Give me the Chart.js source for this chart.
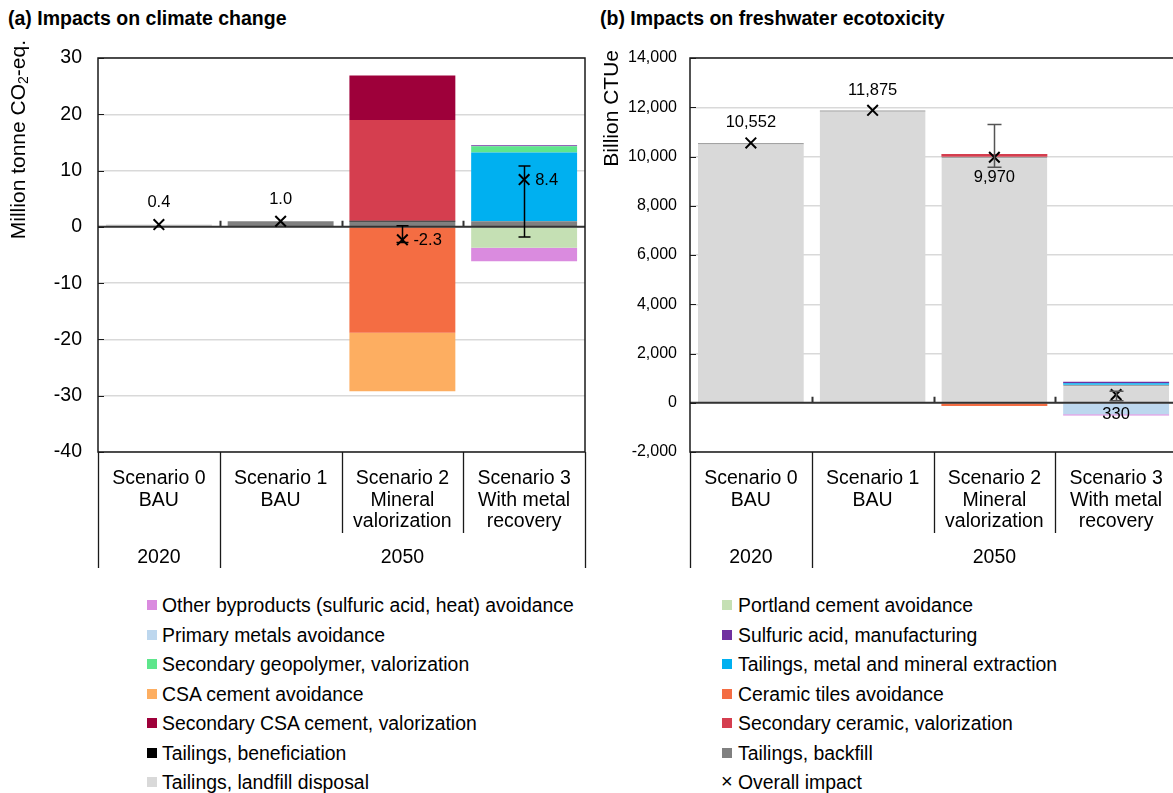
<!DOCTYPE html>
<html>
<head>
<meta charset="utf-8">
<script src="https://cdn.jsdelivr.net/npm/chart.js@4.4.1/dist/chart.umd.min.js"></script>
<style>
  html, body { margin: 0; padding: 0; background: #fff; overflow: hidden; width: 1173px; height: 793px; }
  body { position: relative; font-family: 'Liberation Sans', Arial, Helvetica, sans-serif; color: #000; }
  .panel-title { position: absolute; top: 7px; font-weight: bold; font-size: 19.5px; line-height: 22px; white-space: nowrap; }
  canvas { position: absolute; top: 0; }
  .lg-item { position: absolute; height: 24px; line-height: 24px; font-size: 19.4px; white-space: nowrap; }
  .lg-box { position: absolute; top: 7px; width: 10px; height: 10px; }
  .lg-x { position: absolute; top: -1px; font-size: 20px; }
  .lg-text { position: absolute; top: 0; }
</style>
</head>
<body>
<div class="panel-title" style="left:8px">(a) Impacts on climate change</div>
<div class="panel-title" style="left:600px">(b) Impacts on freshwater ecotoxicity</div>
<canvas id="chartA" width="600" height="580" style="left:0"></canvas>
<canvas id="chartB" width="600" height="580" style="left:590px"></canvas>
<div id="legend"></div>

<script>
// ---- Categories ----
const categories = [
  ['Scenario 0', 'BAU'],
  ['Scenario 1', 'BAU'],
  ['Scenario 2', 'Mineral', 'valorization'],
  ['Scenario 3', 'With metal', 'recovery']
];
const yearLabels = ['2020', '2050'];
const yearGroups = [[0, 0], [1, 3]];

// ---- (a) Climate change, million tonne CO2-eq. ----
const climLandfill        = [0.4, 0, 0, 0];
const climBackfill        = [0, 1.0, 0.9, 1.0];
const climBeneficiation   = [0, 0, 0.2, 0];
const climSecCeramic      = [0, 0, 17.9, 0];
const climSecCSA          = [0, 0, 7.9, 0];
const climExtraction      = [0, 0, 0, 12.2];
const climGeopolymer      = [0, 0, 0, 1.1];
const climSulfuric        = [0, 0, 0, 0.2];
const climCeramicAvoid    = [0, 0, -18.8, 0];
const climCSAAvoid        = [0, 0, -10.4, 0];
const climPortlandAvoid   = [0, 0, 0, -3.7];
const climPrimaryMetals   = [0, 0, 0, 0];
const climOtherByproducts = [0, 0, 0, -2.4];
const climOverall         = [0.4, 1.0, -2.3, 8.4];
const climErrLow          = [null, null, -2.8, -1.8];
const climErrHigh         = [null, null, 0.2, 10.8];
const climTicks           = [-40, 30, 10];

// ---- (b) Freshwater ecotoxicity, billion CTUe ----
const ecoLandfill         = [10552, 11875, 9990, 730];
const ecoBackfill         = [0, 0, 0, 0];
const ecoBeneficiation    = [0, 0, 0, 0];
const ecoSecCeramic       = [0, 0, 110, 0];
const ecoSecCSA           = [0, 0, 0, 0];
const ecoExtraction       = [0, 0, 0, 60];
const ecoGeopolymer       = [0, 0, 0, 0];
const ecoSulfuric         = [0, 0, 0, 60];
const ecoCeramicAvoid     = [0, 0, -130, 0];
const ecoCSAAvoid         = [0, 0, 0, 0];
const ecoPortlandAvoid    = [0, 0, 0, 0];
const ecoPrimaryMetals    = [0, 0, 0, -470];
const ecoOtherByproducts  = [0, 0, 0, -50];
const ecoOverall          = [10552, 11875, 9970, 330];
const ecoErrLow           = [null, null, 9560, 80];
const ecoErrHigh          = [null, null, 11300, 470];
const ecoTicks            = [-2000, 14000, 2000];

// Contributors in stacking order (outward from zero)
const components = [
  { name: 'Tailings, landfill disposal', color: '#D9D9D9', a: climLandfill, b: ecoLandfill },
  { name: 'Tailings, backfill', color: '#808080', a: climBackfill, b: ecoBackfill },
  { name: 'Tailings, beneficiation', color: '#000000', a: climBeneficiation, b: ecoBeneficiation },
  { name: 'Secondary ceramic, valorization', color: '#D53E4F', a: climSecCeramic, b: ecoSecCeramic },
  { name: 'Secondary CSA cement, valorization', color: '#9E003A', a: climSecCSA, b: ecoSecCSA },
  { name: 'Tailings, metal and mineral extraction', color: '#00B0F0', a: climExtraction, b: ecoExtraction },
  { name: 'Secondary geopolymer, valorization', color: '#5EE68C', a: climGeopolymer, b: ecoGeopolymer },
  { name: 'Sulfuric acid, manufacturing', color: '#7030A0', a: climSulfuric, b: ecoSulfuric },
  { name: 'Ceramic tiles avoidance', color: '#F46D43', a: climCeramicAvoid, b: ecoCeramicAvoid },
  { name: 'CSA cement avoidance', color: '#FDAE61', a: climCSAAvoid, b: ecoCSAAvoid },
  { name: 'Portland cement avoidance', color: '#C5E0B4', a: climPortlandAvoid, b: ecoPortlandAvoid },
  { name: 'Primary metals avoidance', color: '#BDD7EE', a: climPrimaryMetals, b: ecoPrimaryMetals },
  { name: 'Other byproducts (sulfuric acid, heat) avoidance', color: '#DA8BDF', a: climOtherByproducts, b: ecoOtherByproducts }
];

const legendLeft = [
  'Other byproducts (sulfuric acid, heat) avoidance',
  'Primary metals avoidance',
  'Secondary geopolymer, valorization',
  'CSA cement avoidance',
  'Secondary CSA cement, valorization',
  'Tailings, beneficiation',
  'Tailings, landfill disposal'
];
const legendRight = [
  'Portland cement avoidance',
  'Sulfuric acid, manufacturing',
  'Tailings, metal and mineral extraction',
  'Ceramic tiles avoidance',
  'Secondary ceramic, valorization',
  'Tailings, backfill',
  'Overall impact'
];

Chart.defaults.font.family = "'Liberation Sans', Arial, Helvetica, sans-serif";
Chart.defaults.color = '#000';

const FONT = "'Liberation Sans', Arial, sans-serif";

// Frame, category box, zero line, axis title, error bars and value labels
const panelDecor = {
  id: 'panelDecor',
  beforeDatasetDraw(chart, args, opts) {
    if (args.meta.type !== 'line') return;
    const { ctx, chartArea: ca } = chart;
    const y0 = chart.scales.y.getPixelForValue(0);
    ctx.save();
    ctx.strokeStyle = '#333';
    ctx.lineWidth = 2;
    ctx.beginPath();
    ctx.moveTo(ca.left, y0); ctx.lineTo(ca.right, y0);
    // small ticks on the zero line at category boundaries
    const xs = chart.scales.x;
    for (let i = 0; i < categories.length - 1; i++) {
      const bx = Math.round((xs.getPixelForTick(i) + xs.getPixelForTick(i + 1)) / 2) + 0.5;
      ctx.moveTo(bx, y0); ctx.lineTo(bx, y0 - 6);
    }
    ctx.stroke();
    ctx.restore();
  },
  afterDatasetsDraw(chart, args, opts) {
    const { ctx, chartArea: ca } = chart;
    const xs = chart.scales.x, ys = chart.scales.y;
    ctx.save();

    // plot frame
    ctx.strokeStyle = '#1a1a1a';
    ctx.lineWidth = 1.5;
    ctx.strokeRect(ca.left, ca.top, ca.right - ca.left, ca.bottom - ca.top);

    // inner tick marks on the value axis
    ctx.lineWidth = 1;
    ctx.beginPath();
    ys.ticks.forEach(t => {
      const y = Math.round(ys.getPixelForValue(t.value)) + 0.5;
      ctx.moveTo(ca.left, y); ctx.lineTo(ca.left + 6, y);
    });
    ctx.stroke();

    // category box below the plot
    const boxTop = ca.bottom;
    const boxMid = ca.bottom + 81;
    const boxBottom = ca.bottom + 116;
    ctx.lineWidth = 1.3;
    ctx.strokeStyle = '#1a1a1a';
    ctx.beginPath();
    const groupStarts = yearGroups.map(g => g[0]);
    const edges = [ca.left];
    for (let i = 0; i < categories.length - 1; i++) {
      edges.push((xs.getPixelForTick(i) + xs.getPixelForTick(i + 1)) / 2);
    }
    edges.push(ca.right);
    edges.forEach((ex, i) => {
      const full = i === 0 || i === edges.length - 1 || groupStarts.includes(i);
      const x = Math.round(ex) + 0.5;
      ctx.moveTo(x, boxTop); ctx.lineTo(x, full ? boxBottom : boxMid);
    });
    ctx.stroke();

    // year row
    ctx.fillStyle = '#000';
    ctx.font = '19.5px ' + FONT;
    ctx.textAlign = 'center';
    ctx.textBaseline = 'middle';
    yearGroups.forEach((g, i) => {
      const x = (edges[g[0]] + edges[g[1] + 1]) / 2;
      ctx.fillText(yearLabels[i], x, ca.bottom + 106);
    });

    // rotated value-axis title, read bottom to top, with an optional subscript part
    const main = '21px ' + FONT, sub = '14px ' + FONT;
    let total = 0;
    opts.axisTitle.forEach(p => { ctx.font = p.sub ? sub : main; total += ctx.measureText(p.t).width; });
    ctx.save();
    ctx.translate(opts.titleX, opts.titleTop + total);
    ctx.rotate(-Math.PI / 2);
    ctx.textAlign = 'left';
    ctx.textBaseline = 'middle';
    let cx = 0;
    opts.axisTitle.forEach(p => {
      ctx.font = p.sub ? sub : main;
      ctx.fillText(p.t, cx, p.sub ? 5 : 0);
      cx += ctx.measureText(p.t).width;
    });
    ctx.restore();

    // error bars
    ctx.strokeStyle = opts.errColor;
    ctx.lineWidth = 1.5;
    ctx.beginPath();
    opts.errLow.forEach((lo, i) => {
      const hi = opts.errHigh[i];
      if (lo === null || hi === null) return;
      const x = Math.round(xs.getPixelForTick(i)) + 0.5;
      const yl = ys.getPixelForValue(lo), yh = ys.getPixelForValue(hi);
      const c = opts.cap;
      ctx.moveTo(x, yl); ctx.lineTo(x, yh);
      ctx.moveTo(x - c, yl); ctx.lineTo(x + c, yl);
      ctx.moveTo(x - c, yh); ctx.lineTo(x + c, yh);
    });
    ctx.stroke();

    // value labels of the overall impact
    ctx.fillStyle = '#000';
    ctx.font = '16.5px ' + FONT;
    ctx.textBaseline = 'middle';
    opts.values.forEach((v, i) => {
      const x = xs.getPixelForTick(i);
      const y = ys.getPixelForValue(v);
      const place = opts.placement[i];
      const txt = opts.format(v);
      if (place === 'above') { ctx.textAlign = 'center'; ctx.fillText(txt, x, y - opts.gap); }
      else if (place === 'below') { ctx.textAlign = 'center'; ctx.fillText(txt, x, y + opts.gap); }
      else { ctx.textAlign = 'left'; ctx.fillText(txt, x + 11, y + 1); }
    });
    ctx.restore();
  }
};

function makeChart(canvasId, key, overall, errLow, errHigh, ticks, cfg) {
  const datasets = components.map(c => ({
    type: 'bar',
    label: c.name,
    data: c[key],
    backgroundColor: c.color,
    borderWidth: (key === 'b' && c.name === 'Tailings, landfill disposal') ? { top: 1.5, left: 0, right: 0, bottom: 0 } : 0,
    borderColor: '#A3A3A3',
    borderSkipped: 'start',
    stack: 'impact',
    order: 1
  }));
  datasets.push({
    type: 'line',
    label: 'Overall impact',
    data: overall,
    showLine: false,
    pointStyle: 'crossRot',
    pointRadius: 7.5,
    pointBorderWidth: 2,
    borderColor: '#000',
    backgroundColor: '#000',
    stack: 'overall',
    order: 0
  });

  return new Chart(document.getElementById(canvasId), {
    data: { labels: categories, datasets },
    options: {
      responsive: false,
      devicePixelRatio: 1,
      animation: false,
      events: [],
      layout: { padding: { top: 58, right: cfg.padRight, bottom: 0, left: 0 } },
      datasets: { bar: { categoryPercentage: 0.87, barPercentage: 1 } },
      plugins: {
        legend: { display: false },
        tooltip: { enabled: false },
        panelDecor: {
          values: overall, errLow, errHigh,
          placement: cfg.placement, format: cfg.format,
          gap: cfg.gap, errColor: cfg.errColor, cap: cfg.cap,
          axisTitle: cfg.axisTitle, titleX: cfg.titleX, titleTop: cfg.titleTop
        }
      },
      scales: {
        x: {
          stacked: true,
          grid: { display: false, drawTicks: false },
          border: { display: false },
          ticks: {
            font: { size: 19.5, lineHeight: 1.1 },
            color: '#000',
            padding: 16.3,
            maxRotation: 0,
            autoSkip: false
          },
          afterFit(scale) { scale.height = 128; }
        },
        y: {
          stacked: true,
          min: ticks[0], max: ticks[1],
          grid: { color: '#D9D9D9', lineWidth: 1.5, drawTicks: false },
          border: { display: false },
          ticks: {
            stepSize: ticks[2],
            font: { size: cfg.tickSize },
            color: '#000',
            padding: cfg.tickPad
          },
          afterFit(scale) { scale.width = cfg.axisWidth; }
        }
      }
    },
    plugins: [panelDecor]
  });
}

makeChart('chartA', 'a', climOverall, climErrLow, climErrHigh, climTicks, {
  padRight: 15, axisWidth: 98, tickPad: 16, tickSize: 19.5,
  axisTitle: [{ t: 'Million tonne CO' }, { t: '2', sub: true }, { t: '-eq.' }],
  titleX: 19, titleTop: 40,
  placement: ['above', 'above', 'right', 'right'],
  format: v => v.toFixed(1), gap: 22, errColor: '#000', cap: 6
});

makeChart('chartB', 'b', ecoOverall, ecoErrLow, ecoErrHigh, ecoTicks, {
  padRight: 13, axisWidth: 100, tickPad: 13, tickSize: 16,
  axisTitle: [{ t: 'Billion CTUe' }],
  titleX: 22, titleTop: 50,
  placement: ['above', 'above', 'below', 'below'],
  format: v => v.toLocaleString('en-US'), gap: 20, errColor: '#555', cap: 7
});

// Legend in two columns
const legendEl = document.getElementById('legend');
function addLegendColumn(names, markerX, textX) {
  names.forEach((name, i) => {
    const item = document.createElement('div');
    item.className = 'lg-item';
    item.style.left = markerX + 'px';
    item.style.top = (605 + i * 29.5 - 12) + 'px';
    const comp = components.find(c => c.name === name);
    if (comp) {
      const box = document.createElement('span');
      box.className = 'lg-box';
      box.style.left = '0px';
      box.style.background = comp.color;
      item.appendChild(box);
    } else {
      const x = document.createElement('span');
      x.className = 'lg-x';
      x.style.left = '-1px';
      x.textContent = '\u00D7';
      item.appendChild(x);
    }
    const t = document.createElement('span');
    t.className = 'lg-text';
    t.style.left = (textX - markerX) + 'px';
    t.textContent = name;
    item.appendChild(t);
    legendEl.appendChild(item);
  });
}
addLegendColumn(legendLeft, 147, 162);
addLegendColumn(legendRight, 722, 738);
</script>
</body>
</html>
